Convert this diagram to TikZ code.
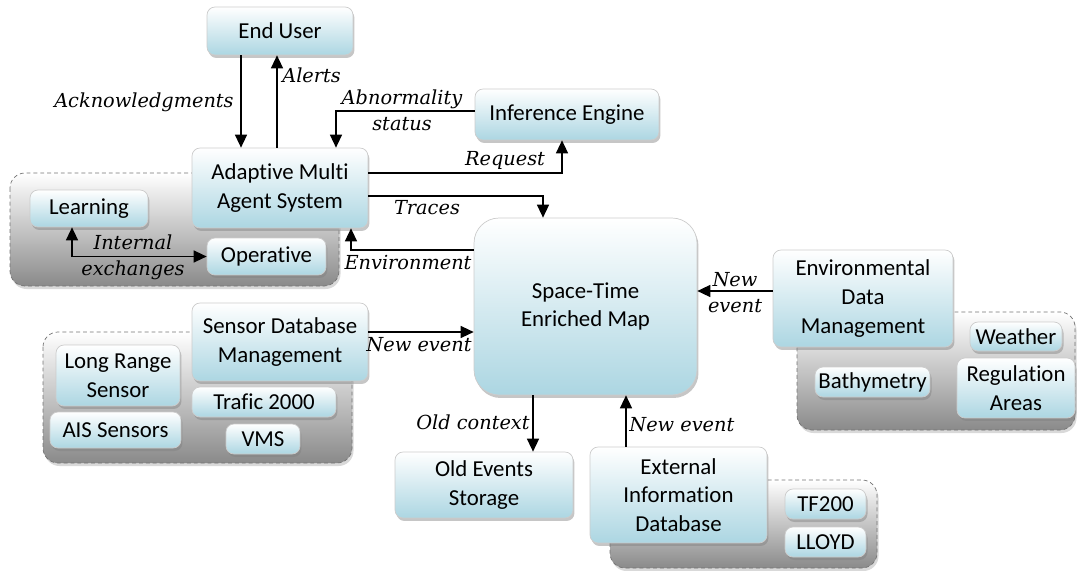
\documentclass[tikz,border=0pt]{standalone}
\usepackage{fontspec}
\setmainfont{Carlito}[Ligatures={NoCommon}, Contextuals={NoAlternate}]
\newfontfamily\lblfont{DejaVu Serif}
\usetikzlibrary{arrows.meta, calc, shadows}
\definecolor{boxblue}{RGB}{172,214,226}
\definecolor{groupgray}{RGB}{138,138,138}

\begin{document}
\begin{tikzpicture}[x=0.02cm, y=-0.02cm,
			>={Triangle[length=2.6mm, width=2.4mm]},
			block/.style={draw=black!20, rounded corners=0.16cm, top color=white, bottom color=boxblue,
				align=center, inner sep=0pt, font=\fontsize{13}{16.4}\selectfont,
				drop shadow={shadow xshift=0.03cm, shadow yshift=-0.06cm, opacity=0.45, fill=black!50}},
			group/.style={draw=black!55, dash pattern=on 2.2pt off 1.7pt, rounded corners=0.3cm,
				top color=white, bottom color=groupgray,
				drop shadow={shadow xshift=0.03cm, shadow yshift=-0.06cm, opacity=0.3, fill=black!50}},
			lbl/.style={font=\lblfont\itshape\fontsize{11}{14.7}\selectfont, inner sep=0pt, align=center}]
			
			\useasboundingbox (0,0) rectangle (1078,571);
			
			% Dashed groups behind the blocks
			\draw[group] (10,173) rectangle (339,286);
			\draw[group] (43,332) rectangle (352,463);
			\draw[group] (610,480) rectangle (877,568);
			\draw[group] (797,312) rectangle (1075,430);
			
			% Main blocks
			\node[block, minimum width=2.92cm, minimum height=0.96cm] (user) at (280,31) {End User};
			\node[block, minimum width=3.52cm, minimum height=1.6cm] (amas) at (280,188) {Adaptive Multi\\Agent System};
			\node[block, minimum width=3.68cm, minimum height=1.02cm] (infer) at (567,114.5) {Inference Engine};
			\node[block, minimum width=4.46cm, minimum height=3.54cm, rounded corners=0.5cm] (map) at (585.5,306.5) {Space-Time\\Enriched Map};
			\node[block, minimum width=3.52cm, minimum height=1.56cm] (sensdb) at (280,342) {Sensor Database\\Management};
			\node[block, minimum width=3.56cm, minimum height=1.32cm] (oldev) at (484,485) {Old Events\\Storage};
			\node[block, minimum width=3.54cm, minimum height=1.92cm] (extdb) at (678.5,495) {External\\Information\\Database};
			\node[block, minimum width=3.6cm, minimum height=1.94cm] (envdm) at (863,298.5) {Environmental\\Data\\Management};
			
			% Inner blocks
			\node[block, minimum width=2.36cm, minimum height=0.74cm] (learn) at (89,208.5) {Learning};
			\node[block, minimum width=2.38cm, minimum height=0.74cm] (oper) at (266.5,256.5) {Operative};
			\node[block, minimum width=2.48cm, minimum height=1.22cm] (longr) at (118,375.5) {Long Range\\Sensor};
			\node[block, minimum width=2.62cm, minimum height=0.72cm] (ais) at (115.5,430) {AIS Sensors};
			\node[block, minimum width=2.88cm, minimum height=0.6cm] (trafic) at (264,402) {Trafic 2000};
			\node[block, minimum width=1.48cm, minimum height=0.6cm] (vms) at (263,439) {VMS};
			\node[block, minimum width=1.62cm, minimum height=0.6cm] (tf) at (825.5,504) {TF200};
			\node[block, minimum width=1.62cm, minimum height=0.6cm] (lloyd) at (825.5,542) {LLOYD};
			\node[block, minimum width=1.84cm, minimum height=0.58cm] (weather) at (1016,336.5) {Weather};
			\node[block, minimum width=2.3cm, minimum height=0.6cm] (bathy) at (872.5,382) {Bathymetry};
			\node[block, minimum width=2.36cm, minimum height=1.2cm] (regul) at (1016,388) {Regulation\\Areas};
			
			% Connection points
			\coordinate (sensout) at ([yshift=0.2cm]sensdb.east);
			\coordinate (oldout) at ([xshift=-1.05cm]map.south);
			\coordinate (extout) at ([xshift=-1.05cm]extdb.north);
			\coordinate (envout) at ([yshift=0.15cm]envdm.west);
			
			% Connectors
			\draw[->, thick] ([xshift=-0.78cm]user.south) -- ([xshift=-0.78cm]amas.north);
			\draw[->, thick] ([xshift=-0.06cm]amas.north) -- ([xshift=-0.06cm]user.south);
			\draw[->, thick] ([yshift=0.07cm]infer.west) -| ([xshift=1.12cm]amas.north);
			\draw[->, thick] ([yshift=0.3cm]amas.east) -| ([xshift=-0.1cm]infer.south);
			\draw[->, thick] ([yshift=-0.16cm]amas.east) -| ([xshift=-0.85cm]map.north);
			\draw[->, thick] ([yshift=1.13cm]map.west) -| ([xshift=1.42cm]amas.south);
			\draw[<->, thick] ([xshift=-0.34cm]learn.south) |- (oper.west);
			\draw[->, thick] (sensout) -- (sensout -| map.west);
			\draw[->, thick] (oldout) -- (oldout |- oldev.north);
			\draw[->, thick] (extout) -- (extout |- map.south);
			\draw[->, thick] (envout) -- (envout -| map.east);
			
			% Connector labels
			\node[lbl, anchor=east] (ack) at (234,102) {Acknowledgments};
			\node[lbl, anchor=west] (alerts) at (282,75) {Alerts};
			\node[lbl] (abnorm) at (402,110) {Abnormality\\status};
			\node[lbl] (request) at (505,160) {Request};
			\node[lbl] (traces) at (427,208) {Traces};
			\node[lbl] (environ) at (408,263) {Environment};
			\node[lbl] (intern) at (133,257) {Internal\\exchanges};
			\node[lbl] (newsens) at (419,345) {New event};
			\node[lbl, anchor=east] (oldctx) at (530,422) {Old context};
			\node[lbl, anchor=west] (newext) at (629,425) {New event};
			\node[lbl] (newenv) at (735,293) {New\\event};
		\end{tikzpicture}
\end{document}
